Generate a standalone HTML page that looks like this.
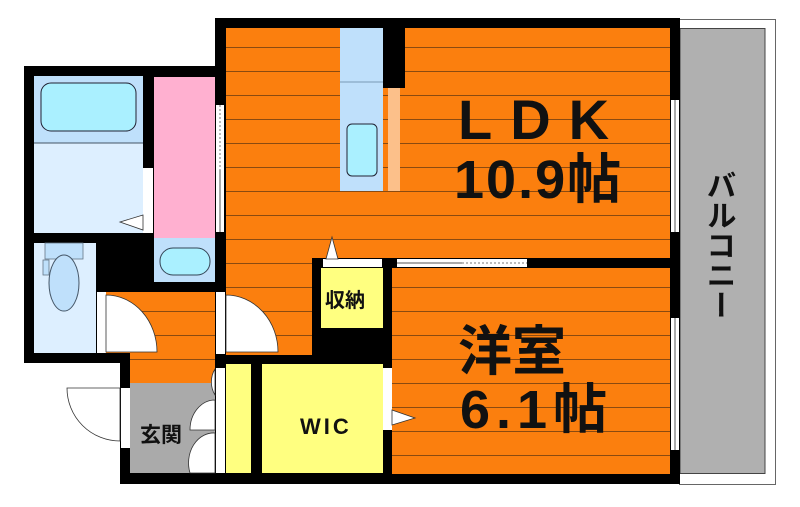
<!DOCTYPE html>
<html><head><meta charset="utf-8"><style>
html,body{margin:0;padding:0;background:#fff;width:800px;height:507px;overflow:hidden}
svg{display:block}
text{font-family:"Liberation Sans","Noto Sans CJK JP",sans-serif;font-weight:bold;fill:#111}
</style></head><body>
<svg width="800" height="507" viewBox="0 0 800 507" xmlns="http://www.w3.org/2000/svg">
<defs>
<pattern id="fl" x="0" y="0" width="10" height="24" patternUnits="userSpaceOnUse">
<rect width="10" height="24" fill="#fb7f0e"/><rect y="23" width="10" height="1" fill="#8a4a10"/>
</pattern>
</defs>
<rect x="679.5" y="19.5" width="96" height="465" fill="#fff" stroke="#666" stroke-width="1"/>
<rect x="680" y="28.5" width="85" height="445" fill="#b0b0b0" stroke="#444" stroke-width="1"/>
<rect x="215" y="18" width="465" height="466" fill="#000"/>
<rect x="24" y="66" width="194" height="297" fill="#000"/>
<rect x="120" y="360" width="100" height="124" fill="#000"/>
<rect x="226" y="28" width="444" height="230" fill="url(#fl)"/>
<rect x="226" y="258" width="86" height="97" fill="url(#fl)"/>
<rect x="340" y="28" width="43" height="163" fill="#bfe0fb"/>
<line x1="340" y1="82" x2="383" y2="82" stroke="#7a9ab5"/>
<rect x="347" y="124" width="30" height="52" rx="5" fill="#aaf0ff" stroke="#223" stroke-width="1"/>
<rect x="383" y="28" width="22" height="60" fill="#000"/>
<rect x="388" y="88" width="12" height="103" fill="#fcc08a"/>
<rect x="392" y="268" width="278" height="206" fill="url(#fl)"/>
<rect x="397" y="259" width="130" height="8" fill="#fff"/>
<line x1="397" y1="263" x2="462" y2="263" stroke="#555"/>
<line x1="462" y1="263" x2="527" y2="263" stroke="#777" stroke-dasharray="2,2"/>
<rect x="312" y="258" width="80" height="106" fill="#000"/>
<rect x="321" y="268" width="62" height="60" fill="#ffff80"/>
<rect x="323" y="259" width="59" height="8" fill="#fff"/>
<polygon points="326,259 332,237 338,259" fill="#fff" stroke="#333" stroke-width="0.8"/>
<text x="325" y="307" font-size="20">収納</text>
<rect x="215" y="355" width="177" height="10" fill="#000"/>
<rect x="262" y="364" width="121" height="109" fill="#ffff80"/>
<rect x="226" y="364" width="25" height="109" fill="#ffff80"/>
<rect x="216" y="368" width="9" height="105" fill="#fff"/>
<rect x="383" y="368" width="9" height="62" fill="#fff"/>
<polygon points="392,410 415,418 392,425" fill="#fff" stroke="#333" stroke-width="0.8"/>
<text x="300" y="434" font-size="22" letter-spacing="3">WIC</text>
<rect x="671" y="100" width="8" height="132" fill="#fff"/><line x1="675" y1="100" x2="675" y2="232" stroke="#555"/>
<rect x="671" y="318" width="8" height="132" fill="#fff"/><line x1="675" y1="318" x2="675" y2="450" stroke="#555"/>
<rect x="216" y="292" width="9" height="62" fill="#fff"/>
<path d="M226,295 A52,57 0 0 1 278,352 L226,352 Z" fill="#fff" stroke="#333" stroke-width="0.8"/>
<rect x="216" y="105" width="8" height="127" fill="#fff"/>
<line x1="220" y1="105" x2="220" y2="170" stroke="#777" stroke-dasharray="2,2"/>
<line x1="220" y1="170" x2="220" y2="232" stroke="#555"/>
<rect x="34" y="76" width="109" height="157" fill="#ddefff"/>
<rect x="34" y="76" width="109" height="67" fill="#bfe0fb"/>
<line x1="34" y1="143" x2="143" y2="143" stroke="#456"/>
<rect x="41" y="83" width="95" height="48" rx="10" fill="#aaf0ff" stroke="#223" stroke-width="1"/>
<rect x="143" y="168" width="10" height="65" fill="#fff"/>
<polygon points="143,215 120,222 143,230" fill="#fff" stroke="#333" stroke-width="0.8"/>
<rect x="154" y="77" width="61" height="161" fill="#ffb0d0"/>
<rect x="154" y="238" width="61" height="44" fill="#bfe0fb"/>
<rect x="160" y="248" width="50" height="27" rx="13" fill="#aaf0ff" stroke="#345" stroke-width="1"/>
<rect x="34" y="243" width="62" height="110" fill="#ddefff"/>
<rect x="45" y="243" width="38" height="16" fill="#bfe0fb" stroke="#678" stroke-width="0.8"/>
<rect x="43" y="260" width="6" height="15" fill="#bfe0fb" stroke="#678" stroke-width="0.8"/>
<ellipse cx="64" cy="283" rx="15" ry="28" fill="#bfe0fb" stroke="#456" stroke-width="1"/>
<rect x="106" y="292" width="109" height="61" fill="url(#fl)"/>
<rect x="130" y="352" width="85" height="31" fill="url(#fl)"/>
<rect x="97" y="292" width="9" height="61" fill="#fff"/>
<path d="M106,295 A51,57 0 0 1 157,352 L106,352 Z" fill="#fff" stroke="#333" stroke-width="0.8"/>
<rect x="130" y="383" width="85" height="90" fill="#aaaaaa"/>
<rect x="121" y="388" width="9" height="60" fill="#fff"/>
<path d="M120,388 L67,388 A53,53 0 0 0 120,441 Z" fill="#fff" stroke="#333" stroke-width="0.8"/>
<path d="M215,369 A25,25 0 0 0 215,395 Z" fill="#fff" stroke="#333" stroke-width="0.8"/>
<path d="M215,400 A25,30 0 0 0 190,430 L215,430 Z" fill="#fff" stroke="#333" stroke-width="0.8"/>
<path d="M215,433 A25,30 0 0 0 190,473 L215,473 Z" fill="#fff" stroke="#333" stroke-width="0.8"/>
<text x="140" y="442" font-size="21">玄関</text>
<text x="458" y="139" font-size="56" letter-spacing="18">LDK</text>
<text x="454" y="198" font-size="54" letter-spacing="2">10.9帖</text>
<text x="458" y="370" font-size="54">洋室</text>
<text x="460" y="428" font-size="54" letter-spacing="6">6.1帖</text>
<text x="718" y="170" font-size="30" style="writing-mode:vertical-rl">バルコニー</text>
</svg>
</body></html>
